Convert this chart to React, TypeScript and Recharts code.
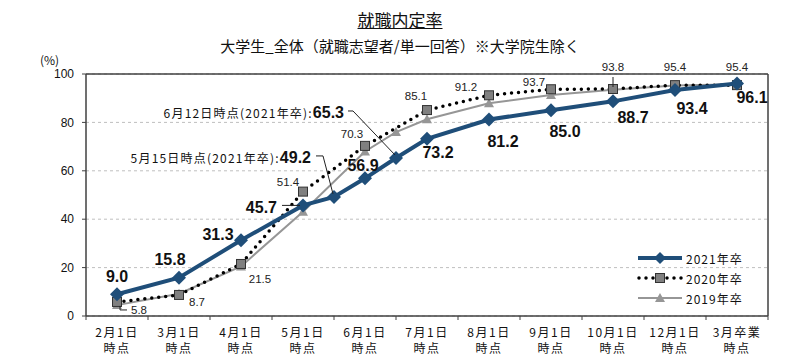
import React from 'react';
import { LineChart, Line, XAxis, YAxis, CartesianGrid, ReferenceLine, LabelList } from 'recharts';

const categories = ['2月1日', '3月1日', '4月1日', '5月1日', '6月1日', '7月1日', '8月1日', '9月1日', '10月1日', '12月1日', '3月卒業'];
const subLabel = '時点';

const pos2021 = [0, 1, 2, 3, 3.5, 4, 4.5, 5, 6, 7, 8, 9, 10];
const rate2021 = [9.0, 15.8, 31.3, 45.7, 49.2, 56.9, 65.3, 73.2, 81.2, 85.0, 88.7, 93.4, 96.1];

const pos2020 = [0, 1, 2, 3, 4, 5, 6, 7, 8, 9, 10];
const rate2020 = [5.8, 8.7, 21.5, 51.4, 70.3, 85.1, 91.2, 93.7, 93.8, 95.4, 95.4];

const pos2019 = [0, 1, 2, 3, 4, 4.5, 5, 6, 7, 8, 9, 10];
const rate2019 = [4.5, 9.2, 20.5, 43.1, 68.0, 76.0, 81.3, 87.9, 91.3, 93.5, 95.2, 95.8];

const yTicks = [0, 20, 40, 60, 80, 100];

const data2021 = pos2021.map((x, i) => ({ x, y: rate2021[i] }));
const data2020 = pos2020.map((x, i) => ({ x, y: rate2020[i] }));
const data2019 = pos2019.map((x, i) => ({ x, y: rate2019[i] }));

// ticks at band centres (labels) and band edges (tick marks)
const xTicks: number[] = [];
for (let i = -0.5; i <= 10.5; i += 0.5) xTicks.push(i);

const BLUE = '#1f4e79';
const GREY = '#969696';
const JP = '"Noto Sans CJK JP", sans-serif';
const NUM = '"Liberation Sans", Arial, sans-serif';

// label placement for the 2021 values (text centre relative to the point)
const offs2021: ([number, number] | null)[] = [
  [0, -18], [-9, -18], [-23, -6], null, null, [-2, -13], null,
  [11, 14], [14, 22], [14, 21], [20, 16], [17, 19], [15, 14],
];
const offs2020: [number, number][] = [
  [22, 8], [18, 7], [19, 15], [-15, -10], [-13, -12], [-11, -14],
  [-23, -8], [-17, -7], [0, -22], [0, -18], [0, -18],
];

const Diamond = (p: any) => {
  const { cx, cy } = p;
  if (cx == null || cy == null) return <g />;
  return <polygon points={`${cx},${cy - 7} ${cx + 7},${cy} ${cx},${cy + 7} ${cx - 7},${cy}`} fill={BLUE} />;
};

const Square = (p: any) => {
  const { cx, cy } = p;
  if (cx == null || cy == null) return <g />;
  return <rect x={cx - 4.5} y={cy - 4.5} width={9} height={9} fill="#808080" stroke="#333" strokeWidth={1} />;
};

const Triangle = (p: any) => {
  const { cx, cy } = p;
  if (cx == null || cy == null) return <g />;
  return <polygon points={`${cx},${cy - 5} ${cx + 5},${cy + 4} ${cx - 5},${cy + 4}`} fill={GREY} />;
};

const Label2021 = (p: any) => {
  const { x, y, value, index } = p;
  const v = Number(value).toFixed(1);
  if (index === 3) {
    return (
      <g>
        <text x={x - 26} y={y + 2} textAnchor="end" dominantBaseline="central" fontFamily={NUM} fontWeight="bold" fontSize={16} fill="#111">{v}</text>
        <line x1={x - 21} y1={y} x2={x - 3} y2={y} stroke="#222" strokeWidth={1} />
      </g>
    );
  }
  if (index === 4 || index === 6) {
    const text = index === 4 ? '5月15日時点(2021年卒):' : '6月12日時点(2021年卒):';
    const [tx, ty, l1, l2] = index === 4 ? [-23, -40, -18, -11] : [-52, -46, -48, -43];
    return (
      <g>
        <text x={x + tx} y={y + ty} textAnchor="end" dominantBaseline="central">
          <tspan fontFamily={JP} fontSize={12} letterSpacing={1.2} fill="#111">{text}</tspan>
          <tspan fontFamily={NUM} fontWeight="bold" fontSize={16} fill="#111">{v}</tspan>
        </text>
        <polyline points={`${x + l1},${y + ty - 1} ${x + l2},${y + ty - 1} ${x - 1},${y - 3}`} fill="none" stroke="#222" strokeWidth={1} />
      </g>
    );
  }
  const o = offs2021[index];
  if (!o) return null;
  return (
    <text x={x + o[0]} y={y + o[1]} textAnchor="middle" dominantBaseline="central" fontFamily={NUM} fontWeight="bold" fontSize={16} fill="#111">{v}</text>
  );
};

const Label2020 = (p: any) => {
  const { x, y, value, index } = p;
  const o = offs2020[index];
  return (
    <g>
      <text x={x + o[0]} y={y + o[1]} textAnchor="middle" dominantBaseline="central" fontFamily={NUM} fontSize={11.5} fill="#222">{Number(value).toFixed(1)}</text>
      {index === 0 && <polyline points={`${x + 3},${y + 4} ${x + 3},${y + 8} ${x + 10},${y + 8}`} fill="none" stroke="#222" strokeWidth={1} />}
      {index === 8 && <line x1={x} y1={y - 12} x2={x} y2={y - 2} stroke="#222" strokeWidth={1} />}
    </g>
  );
};

const XTick = (p: any) => {
  const { x, y, payload } = p;
  const v = payload.value;
  if (Math.abs(v - Math.round(v)) > 0.01) {
    return <line x1={x} y1={y} x2={x} y2={y + 4} stroke="#404040" strokeWidth={1} />;
  }
  return (
    <g>
      <text x={x} y={y + 15} textAnchor="middle" dominantBaseline="central" fontFamily={JP} fontSize={12} letterSpacing={1.5} fill="#111">{categories[Math.round(v)]}</text>
      <text x={x} y={y + 31} textAnchor="middle" dominantBaseline="central" fontFamily={JP} fontSize={12} letterSpacing={1.5} fill="#111">{subLabel}</text>
    </g>
  );
};

const legendRows = [
  { name: '2021年卒', kind: 'a' },
  { name: '2020年卒', kind: 'b' },
  { name: '2019年卒', kind: 'c' },
];

const LegendBox = () => (
  <div style={{ position: 'absolute', left: 636, top: 248 }}>
    {legendRows.map((r) => (
      <div key={r.name} style={{ display: 'flex', alignItems: 'center', height: 20 }}>
        <svg width={50} height={20}>
          {r.kind === 'a' && (
            <>
              <line x1={2} y1={10} x2={46} y2={10} stroke={BLUE} strokeWidth={4} />
              <polygon points="24,4 30,10 24,16 18,10" fill={BLUE} />
            </>
          )}
          {r.kind === 'b' && (
            <>
              <line x1={3} y1={10} x2={46} y2={10} stroke="#000" strokeWidth={3.5} strokeDasharray="0 7" strokeLinecap="round" />
              <rect x={19.5} y={5.5} width={9} height={9} fill="#808080" stroke="#333" />
            </>
          )}
          {r.kind === 'c' && (
            <>
              <line x1={2} y1={10} x2={46} y2={10} stroke={GREY} strokeWidth={2} />
              <polygon points="24,5 29,14 19,14" fill={GREY} />
            </>
          )}
        </svg>
        <span style={{ fontFamily: JP, fontSize: 12, letterSpacing: 1, color: '#111' }}>{r.name}</span>
      </div>
    ))}
  </div>
);

export default function App() {
  return (
    <div style={{ position: 'absolute', left: 0, top: 0, width: 800, height: 362, background: '#fff' }}>
      <div style={{ position: 'absolute', left: 0, top: 8, width: 800, textAlign: 'center', fontFamily: JP, fontSize: 17, textDecoration: 'underline', color: '#111', lineHeight: '24px' }}>
        就職内定率
      </div>
      <div style={{ position: 'absolute', left: 0, top: 35, width: 800, textAlign: 'center', fontFamily: JP, fontSize: 15, color: '#111', lineHeight: '22px' }}>
        大学生_全体（就職志望者/単一回答）※大学院生除く
      </div>
      <div style={{ position: 'absolute', left: 40, top: 51, fontFamily: JP, fontSize: 12, color: '#111', lineHeight: '18px' }}>
        (%)
      </div>
      <div style={{ position: 'absolute', left: 0, top: 0 }}>
        <LineChart width={800} height={362} margin={{ top: 74, right: 32, left: 46, bottom: 6 }}>
          <CartesianGrid vertical={false} stroke="#bfbfbf" strokeDasharray="3 3" />
          <XAxis
            type="number"
            dataKey="x"
            domain={[-0.5, 10.5]}
            ticks={xTicks}
            interval={0}
            allowDataOverflow
            tickLine={false}
            tickSize={0}
            tickMargin={0}
            height={40}
            axisLine={{ stroke: '#404040', strokeWidth: 1.5 }}
            tick={<XTick />}
          />
          <YAxis
            type="number"
            domain={[0, 100]}
            ticks={yTicks}
            width={40}
            tickSize={4}
            tickMargin={8}
            tickLine={{ stroke: '#404040' }}
            axisLine={{ stroke: '#404040', strokeWidth: 1.5 }}
            tick={{ fontFamily: NUM, fontSize: 12, fill: '#111' }}
          />
          <ReferenceLine y={100} stroke="#404040" strokeWidth={1.5} ifOverflow="visible" />
          <ReferenceLine x={10.5} stroke="#404040" strokeWidth={1.5} ifOverflow="visible" />
          <Line data={data2019} dataKey="y" stroke={GREY} strokeWidth={2} dot={<Triangle />} activeDot={false} isAnimationActive={false} />
          <Line data={data2020} dataKey="y" stroke="#000" strokeWidth={3.5} strokeDasharray="0 7" strokeLinecap="round" dot={<Square />} activeDot={false} isAnimationActive={false}>
            <LabelList dataKey="y" content={<Label2020 />} />
          </Line>
          <Line data={data2021} dataKey="y" stroke={BLUE} strokeWidth={4} dot={<Diamond />} activeDot={false} isAnimationActive={false}>
            <LabelList dataKey="y" content={<Label2021 />} />
          </Line>
        </LineChart>
      </div>
      <LegendBox />
    </div>
  );
}
